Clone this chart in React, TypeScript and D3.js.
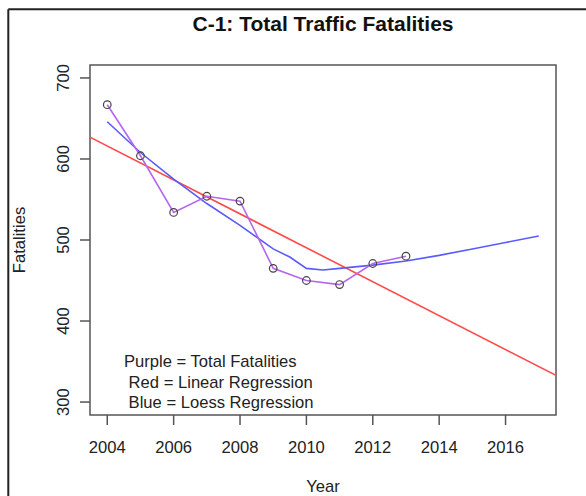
import React from "react";
import * as d3 from "d3";

const years = [2004, 2005, 2006, 2007, 2008, 2009, 2010, 2011, 2012, 2013];
const fatalities = [667, 604, 534, 554, 548, 465, 450, 445, 471, 480];

const loessYears = [2004, 2005, 2006, 2007, 2008, 2009, 2009.5, 2010, 2010.5, 2011, 2012, 2013, 2014, 2015, 2016, 2017];
const loessValues = [646, 608, 575, 545, 518, 489, 479, 465, 463, 465, 469, 474, 481, 489, 497, 505];

const xTicks = [2004, 2006, 2008, 2010, 2012, 2014, 2016];
const yTicks = [300, 400, 500, 600, 700];

const legendLines = ["Purple = Total Fatalities", " Red = Linear Regression", " Blue = Loess Regression"];

const W = 586, H = 496;
const left = 90, right = 556, top = 65, bottom = 415;
const FONT = "Liberation Sans, Arial, sans-serif";

export default function App() {
  const xDom: [number, number] = [2004 - 13 * 0.04, 2017 + 13 * 0.04];
  const yDom: [number, number] = [300 - 400 * 0.04, 700 + 400 * 0.04];
  const x = d3.scaleLinear().domain(xDom).range([left, right]);
  const y = d3.scaleLinear().domain(yDom).range([bottom, top]);

  // linear regression computed from the data
  const mx = d3.mean(years)!;
  const my = d3.mean(fatalities)!;
  const sxy = d3.sum(years.map((v, i) => (v - mx) * (fatalities[i] - my)));
  const sxx = d3.sum(years.map((v) => (v - mx) ** 2));
  const slope = sxy / sxx;
  const icpt = my - slope * mx;
  const reg = (v: number) => icpt + slope * v;

  const line = d3.line<[number, number]>().x((d) => x(d[0])).y((d) => y(d[1]));
  const dataPts: [number, number][] = years.map((v, i) => [v, fatalities[i]]);
  const loessPts: [number, number][] = loessYears.map((v, i) => [v, loessValues[i]]);
  const regPts: [number, number][] = [[xDom[0], reg(xDom[0])], [xDom[1], reg(xDom[1])]];

  const fs = 16.6;
  const axisCol = "#555";

  return (
    <svg width={W} height={H} style={{ position: "fixed", left: 0, top: 0, background: "#fff" }} fontFamily={FONT}>
      <rect x={0} y={0} width={W} height={H} fill="#fff" />
      {/* outer frame */}
      <line x1={8.3} x2={W} y1={9.3} y2={9.3} stroke="#222" strokeWidth={2} />
      <line x1={8.3} x2={8.3} y1={9.3} y2={H} stroke="#222" strokeWidth={2} />

      <defs>
        <clipPath id="plotclip">
          <rect x={left} y={top} width={right - left} height={bottom - top} />
        </clipPath>
      </defs>

      <text x={(left + right) / 2} y={31} textAnchor="middle" fontWeight="bold" fontSize={21} fill="#111">
        C-1: Total Traffic Fatalities
      </text>

      {/* plot box */}
      <rect x={left} y={top} width={right - left} height={bottom - top} fill="none" stroke={axisCol} strokeWidth={1.5} />

      {/* x axis */}
      {xTicks.map((t) => (
        <g key={t}>
          <line x1={x(t)} x2={x(t)} y1={bottom} y2={bottom + 10} stroke={axisCol} strokeWidth={1.5} />
          <text x={x(t)} y={453} textAnchor="middle" fontSize={fs} fill="#222">{t}</text>
        </g>
      ))}
      <text x={(left + right) / 2} y={492} textAnchor="middle" fontSize={fs} fill="#222">Year</text>

      {/* y axis */}
      {yTicks.map((t) => (
        <g key={t}>
          <line x1={left - 10} x2={left} y1={y(t)} y2={y(t)} stroke={axisCol} strokeWidth={1.5} />
          <text transform={`translate(69,${y(t)}) rotate(-90)`} textAnchor="middle" fontSize={fs} fill="#222">{t}</text>
        </g>
      ))}
      <text transform={`translate(25,${(top + bottom) / 2}) rotate(-90)`} textAnchor="middle" fontSize={fs} fill="#222">Fatalities</text>

      <g clipPath="url(#plotclip)">
        <path d={line(regPts)!} fill="none" stroke="#ff4a4a" strokeWidth={1.6} />
        <path d={line(loessPts)!} fill="none" stroke="#5a5aff" strokeWidth={1.6} />
        <path d={line(dataPts)!} fill="none" stroke="#b566f0" strokeWidth={1.6} />
        {dataPts.map((d, i) => (
          <circle key={i} cx={x(d[0])} cy={y(d[1])} r={3.8} fill="none" stroke="#444" strokeWidth={1.2} />
        ))}
      </g>

      {legendLines.map((s, i) => (
        <text key={i} x={124} y={367 + i * 20.5} fontSize={fs} fill="#222" style={{ whiteSpace: "pre" }}>{s}</text>
      ))}
    </svg>
  );
}
